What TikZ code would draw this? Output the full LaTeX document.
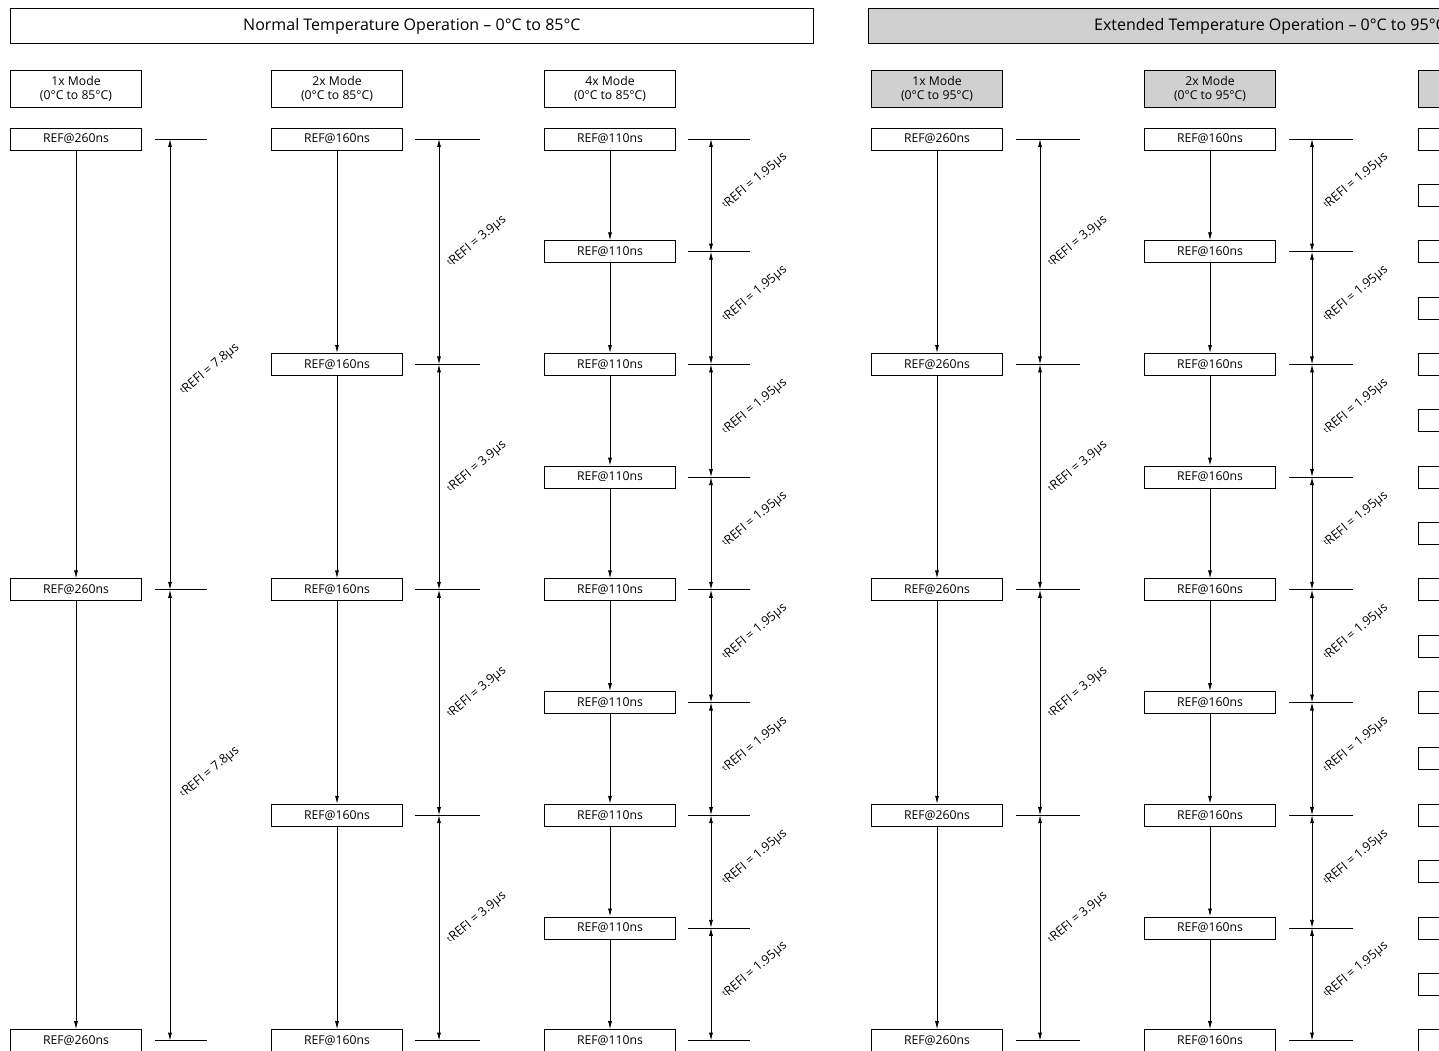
\documentclass[tikz,border=0pt]{standalone}
\usepackage{fontspec}
\setmainfont{Open Sans}
\usetikzlibrary{arrows.meta,calc}
\definecolor{hdrgray}{RGB}{208,208,208}
\tikzset{
  hdr/.style={draw, line width=0.8pt, minimum width=803pt, minimum height=35pt, inner sep=0pt, anchor=north west, font=\fontsize{16}{18}\selectfont},
  modebox/.style={draw, line width=0.8pt, minimum width=131pt, minimum height=37pt, inner sep=0pt, align=center, font=\fontsize{12.2}{14}\selectfont},
  refbox/.style={draw, line width=0.8pt, fill=white, minimum width=131pt, minimum height=22pt, inner sep=0pt, font=\fontsize{12.2}{14}\selectfont},
  ext/.style={fill=hdrgray},
  flow/.style={line width=0.8pt, -{Latex[length=8pt,width=4pt]}},
  dimline/.style={line width=0.8pt, {Latex[length=8pt,width=4pt]}-{Latex[length=8pt,width=4pt]}},
  tickline/.style={line width=0.8pt},
  lbl/.style={rotate=40, inner sep=0pt, font=\fontsize{12.5}{14}\selectfont}
}
\newcommand{\trefi}{{\fontsize{8}{9}\selectfont\raisebox{0.45ex}{t}}REFI}
\begin{document}
\begin{tikzpicture}[x=1pt,y=-1pt]
\useasboundingbox (0,0) rectangle (1439,1051);
\clip (0,0) rectangle (1439,1051);
\fill[white] (0,0) rectangle (1439,1051);

% headers
\node[hdr] (hN) at (10,8) {Normal Temperature Operation – 0°C to 85°C};
\node[hdr, ext] (hE) at (868,8) {Extended Temperature Operation – 0°C to 95°C};

% mode boxes
\node[modebox] (m1) at (76,89) {1x Mode\\(0°C to 85°C)};
\node[modebox] (m2) at (337,89) {2x Mode\\(0°C to 85°C)};
\node[modebox] (m3) at (610,89) {4x Mode\\(0°C to 85°C)};
\node[modebox, ext] (m4) at (937,89) {1x Mode\\(0°C to 95°C)};
\node[modebox, ext] (m5) at (1210,89) {2x Mode\\(0°C to 95°C)};
\node[modebox, ext] (m6) at (1484,89) {};

% columns
\foreach \col/\cx/\gp/\nn/\txt/\xa/\xm/\xb/\lab/\ldx/\ldy in {
  1/76/450.8/2/REF@260ns/155/170/207/7.8/40/{5-48*\j},
  2/337/225.4/4/REF@160ns/415/439/480/3.9/38/-10,
  3/610/112.7/8/REF@110ns/688/711/750/1.95/44/-14,
  4/937/225.4/4/REF@260ns/1016/1040/1080/3.9/38/-10,
  5/1210/112.7/8/REF@160ns/1289/1312/1353/1.95/44/-14}{
  \foreach \i in {0,...,\nn}{
    \node[refbox] (c\col r\i) at (\cx,{139+\i*\gp}) {\txt};
    \coordinate (c\col tl\i) at (\xa,{139+\i*\gp});
    \coordinate (c\col tr\i) at (\xb,{139+\i*\gp});
    \coordinate (c\col a\i) at (\xm,{139+\i*\gp});
    \draw[tickline] (c\col tl\i) -- (c\col tr\i);
  }
  \foreach \i [evaluate=\i as \j using int(\i-1)] in {1,...,\nn}{
    \draw[flow] (c\col r\j) -- (c\col r\i);
    \draw[dimline] (c\col a\j) -- (c\col a\i);
    \node[lbl] (c\col l\j) at ($(c\col a\j)!0.5!(c\col a\i)+(\ldx,\ldy)$) {\trefi{} = \lab μs};
  }
}

% partially visible column
\foreach \i in {0,...,16}{
  \node[refbox] (c6r\i) at (1484,{139+\i*56.35}) {};
}
\end{tikzpicture}
\end{document}
